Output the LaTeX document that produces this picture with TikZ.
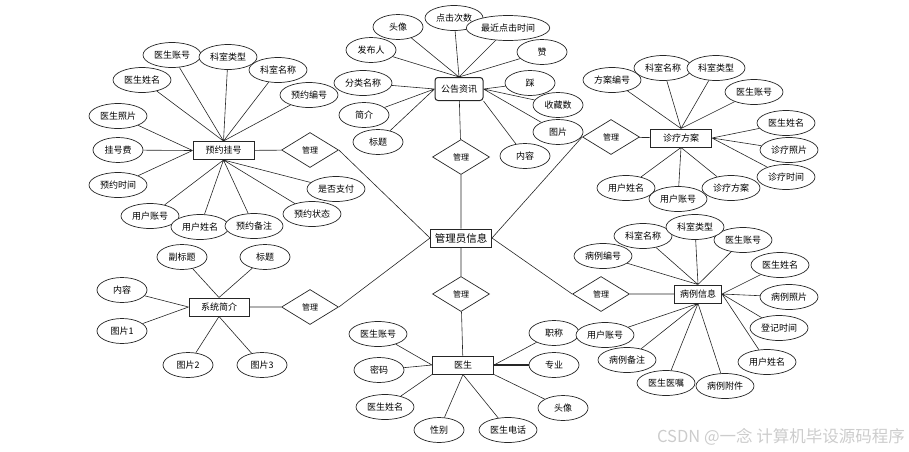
\documentclass[tikz,border=0pt]{standalone}
\usepackage{fontspec}
\newfontfamily\cjk{Noto Sans CJK SC}
\usetikzlibrary{shapes.geometric}
\definecolor{inkgray}{HTML}{262626}

\begin{document}
\begin{tikzpicture}[
  x=1pt, y=-1pt,
  font=\cjk\fontsize{9}{11}\selectfont,
  attr/.style={
    draw=inkgray, fill=white, ellipse, line width=0.7pt,
    minimum width=50pt, minimum height=25pt, inner sep=2.5pt
  },
  entity/.style={
    draw=inkgray, fill=white, line width=1pt,
    minimum width=61pt, minimum height=18pt, inner sep=1pt
  },
  rel/.style={
    draw=inkgray, fill=white, diamond, line width=0.7pt,
    minimum width=57pt, minimum height=35pt, inner sep=0pt,
    font=\cjk\fontsize{8}{9}\selectfont
  },
  link/.style={draw=inkgray, line width=0.6pt},
]
\useasboundingbox (0,0) rectangle (909,451);

% entities
\node[entity] (booking) at (223.5,150.5) {预约挂号};
\node[entity, rounded corners=3pt, minimum width=48pt, minimum height=23pt] (notice) at (459,89) {公告资讯};
\node[entity] (plan) at (681,138) {诊疗方案};
\node[entity, font=\cjk\fontsize{10.5}{12}\selectfont] (admin) at (461,238) {管理员信息};
\node[entity, minimum width=60pt] (intro) at (219,307) {系统简介};
\node[entity] (doctor) at (463,365) {医生};
\node[entity, minimum width=47pt] (record) at (698,294) {病例信息};

% relations
\node[rel] (m1) at (310,150) {管理};
\node[rel] (m2) at (461,157) {管理};
\node[rel] (m3) at (611,137) {管理};
\node[rel] (m4) at (310,307) {管理};
\node[rel] (m5) at (461,294) {管理};
\node[rel] (m6) at (601,294) {管理};

% 预约挂号
\node[attr] (b1) at (172,55) {医生账号};
\node[attr] (b2) at (228,57) {科室类型};
\node[attr] (b3) at (278,70) {科室名称};
\node[attr] (b4) at (309,95) {预约编号};
\node[attr] (b5) at (142,80) {医生姓名};
\node[attr] (b6) at (118,116) {医生照片};
\node[attr] (b7) at (118,150) {挂号费};
\node[attr] (b8) at (118,185) {预约时间};
\node[attr] (b9) at (150,216) {用户账号};
\node[attr] (b10) at (200,227) {用户姓名};
\node[attr] (b11) at (254,226) {预约备注};
\node[attr] (b12) at (312,214) {预约状态};
\node[attr] (b13) at (336,189) {是否支付};

% 公告资讯
\node[attr] (n1) at (398,27) {头像};
\node[attr] (n2) at (454,18) {点击次数};
\node[attr] (n3) at (508,28) {最近点击时间};
\node[attr] (n4) at (371,50) {发布人};
\node[attr] (n5) at (542,52) {赞};
\node[attr] (n6) at (363,83) {分类名称};
\node[attr] (n7) at (364,115) {简介};
\node[attr] (n8) at (378,142) {标题};
\node[attr] (n9) at (530,83) {踩};
\node[attr] (n10) at (558,105) {收藏数};
\node[attr] (n11) at (558,132) {图片};
\node[attr] (n12) at (525,156) {内容};

% 诊疗方案
\node[attr] (p1) at (612,80) {方案编号};
\node[attr] (p2) at (663,68) {科室名称};
\node[attr] (p3) at (716,68) {科室类型};
\node[attr] (p4) at (754,92) {医生账号};
\node[attr] (p5) at (786,123) {医生姓名};
\node[attr] (p6) at (789,150) {诊疗照片};
\node[attr] (p7) at (786,177) {诊疗时间};
\node[attr] (p8) at (626,188) {用户姓名};
\node[attr] (p10) at (731,188) {诊疗方案};
\node[attr] (p9) at (678,199) {用户账号};

% 系统简介
\node[attr] (s1) at (182,257) {副标题};
\node[attr] (s2) at (265,257) {标题};
\node[attr] (s3) at (122,290) {内容};
\node[attr] (s4) at (122,331) {图片1};
\node[attr] (s5) at (188,365) {图片2};
\node[attr] (s6) at (262,365) {图片3};

% 医生
\node[attr] (d1) at (378,334) {医生账号};
\node[attr] (d2) at (379,370) {密码};
\node[attr] (d3) at (385,407) {医生姓名};
\node[attr] (d4) at (439,430) {性别};
\node[attr] (d5) at (508,430) {医生电话};
\node[attr] (d6) at (563,408) {头像};
\node[attr] (d7) at (554,333) {职称};
\node[attr] (d8) at (554,365) {专业};

% 病例信息
\node[attr] (r1) at (603,256) {病例编号};
\node[attr] (r2) at (643,236) {科室名称};
\node[attr] (r4) at (743,240) {医生账号};
\node[attr] (r3) at (695,227) {科室类型};
\node[attr] (r5) at (780,265) {医生姓名};
\node[attr] (r6) at (789,297) {病例照片};
\node[attr] (r7) at (779,328) {登记时间};
\node[attr] (r8) at (767,362) {用户姓名};
\node[attr] (r9) at (725,386) {病例附件};
\node[attr] (r10) at (666,383) {医生医嘱};
\node[attr] (r11) at (627,360) {病例备注};
\node[attr] (r12) at (605,335) {用户账号};

% relation links
\draw[link] (booking) -- (m1) (m1.east) -- (admin.west);
\draw[link] (notice) -- (m2) (m2) -- (admin);
\draw[link] (plan) -- (m3) (m3.west) -- (admin.east);
\draw[link] (intro) -- (m4) (m4.east) -- (admin.west);
\draw[link] (admin) -- (m5) (m5) -- (doctor);
\draw[link] (admin.east) -- (m6.west) (m6) -- (record);

% attribute links
\draw[link] (booking.north) -- (b1) (booking.north) -- (b2) (booking.north) -- (b3)
  (booking.north) -- (b4) (booking.north) -- (b5);
\draw[link] (booking.west) -- (b6) (booking.west) -- (b7) (booking.west) -- (b8);
\draw[link] (booking.south) -- (b9) (booking.south) -- (b10) (booking.south) -- (b11)
  (booking.south) -- (b12) (booking.south) -- (b13);

\draw[link] (notice.north) -- (n1) (notice.north) -- (n2) (notice.north) -- (n3)
  (notice.north) -- (n4) (notice.north) -- (n5);
\draw[link] (notice.west) -- (n6) (notice.west) -- (n7) (notice.west) -- (n8);
\draw[link] (notice.east) -- (n9) (notice.east) -- (n10) (notice.east) -- (n11)
  (notice.south east) -- (n12);

\draw[link] (plan.north) -- (p1) (plan.north) -- (p2) (plan.north) -- (p3) (plan.north) -- (p4);
\draw[link] (plan.east) -- (p5) (plan.east) -- (p6) (plan.east) -- (p7);
\draw[link] (plan.south) -- (p8) (plan.south) -- (p9) (plan.south) -- (p10);

\draw[link] (intro.north) -- (s1) (intro.north) -- (s2);
\draw[link] (intro.west) -- (s3) (intro.west) -- (s4);
\draw[link] (intro.south) -- (s5) (intro.south) -- (s6);

\draw[link] (doctor.west) -- (d1) (doctor.west) -- (d2) (doctor.south west) -- (d3);
\draw[link] (doctor.south) -- (d4) (doctor.south) -- (d5) (doctor.south east) -- (d6);
\draw[link] (doctor.east) -- (d7);
\draw[link, line width=1.2pt] (doctor.east) -- (d8);

\draw[link] (record.north) -- (r1) (record.north) -- (r2) (record.north) -- (r3) (record.north) -- (r4);
\draw[link] (record.east) -- (r5) (record.east) -- (r6) (record.east) -- (r7) (record.east) -- (r8);
\draw[link] (record.south) -- (r9) (record.south) -- (r10) (record.south) -- (r11) (record.south) -- (r12);

% watermark
\node[anchor=east, text=gray!40, inner sep=0pt, font=\cjk\fontsize{16.5}{18}\selectfont] (mark) at (905,437) {CSDN @一念 计算机毕设源码程序};

\end{tikzpicture}
\end{document}
